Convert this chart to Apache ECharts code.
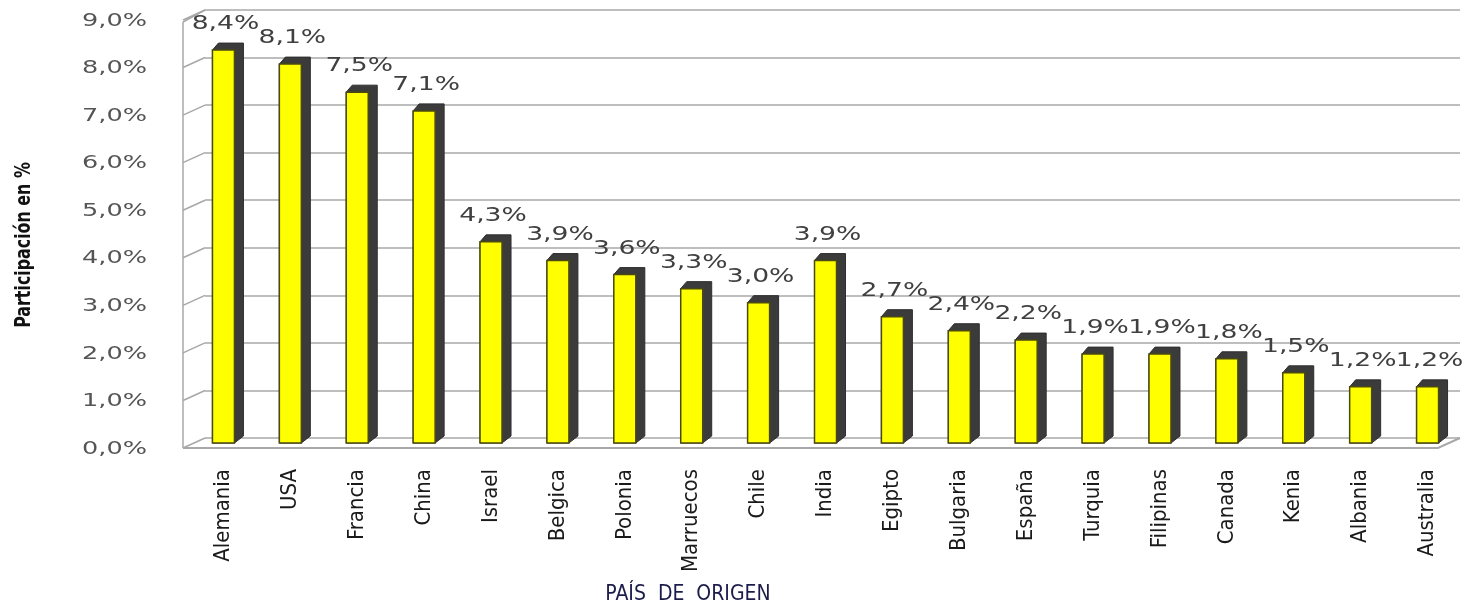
<!DOCTYPE html>
<html>
<head>
<meta charset="utf-8">
<script src="https://cdn.jsdelivr.net/npm/echarts@6/dist/echarts.min.js"></script>
<style>html,body{margin:0;padding:0;background:#fff}#c{width:1463px;height:607px}</style>
</head>
<body>
<div id="c"></div>
<script>
const categories = ['Alemania','USA','Francia','China','Israel','Belgica','Polonia','Marruecos','Chile','India','Egipto','Bulgaria','España','Turquia','Filipinas','Canada','Kenia','Albania','Australia'];
const values = [8.4, 8.1, 7.5, 7.1, 4.3, 3.9, 3.6, 3.3, 3.0, 3.9, 2.7, 2.4, 2.2, 1.9, 1.9, 1.8, 1.5, 1.2, 1.2];
const tickValues = [0, 1, 2, 3, 4, 5, 6, 7, 8, 9];
const tickLabels = ['0,0%','1,0%','2,0%','3,0%','4,0%','5,0%','6,0%','7,0%','8,0%','9,0%'];
const yTitle = 'Participación en %';
const xTitle = 'PAÍS  DE  ORIGEN';

const fmt = v => v.toFixed(1).replace('.', ',') + '%';
const DX = -22, DY = 10; // depth vector (back wall -> front edge)
const GRID_COLOR = '#a8a8a8';
const NARROW = '"Liberation Sans Narrow","DejaVu Sans Condensed",sans-serif';

const chart = echarts.init(document.getElementById('c'), null, {renderer: 'canvas'});
chart.setOption({
  animation: false,
  backgroundColor: '#ffffff',
  grid: [
    {left: 205, right: 3, top: 10, bottom: 169},
    {left: 190, right: 2, top: 22, bottom: 164}
  ],
  xAxis: [
    {gridIndex: 0, type: 'category', data: categories, show: false},
    {gridIndex: 1, type: 'category', data: categories,
     axisLine: {show: false}, axisTick: {show: false},
     axisLabel: {rotate: 90, margin: 26, interval: 0, fontFamily: NARROW, fontSize: 22, color: '#1a1a1a'}}
  ],
  yAxis: [
    {gridIndex: 0, type: 'value', min: 0, max: 9, interval: 1,
     axisLine: {show: false}, axisTick: {show: false}, axisLabel: {show: false},
     splitLine: {show: true, lineStyle: {color: GRID_COLOR, width: 1.5}}},
    {gridIndex: 1, type: 'value', min: 0, max: 9, interval: 1, show: false, splitLine: {show: false}}
  ],
  series: [
    {
      type: 'custom', xAxisIndex: 0, yAxisIndex: 0, silent: true,
      data: tickValues.map((v, i) => [0, v, i]),
      renderItem: function (params, api) {
        const cs = params.coordSys;
        const v = api.value(1);
        const idx = api.value(2);
        const y = api.coord([0, v])[1];
        const gx = cs.x;
        const children = [
          {type: 'line', shape: {x1: gx, y1: y, x2: gx + DX, y2: y + DY}, style: {stroke: GRID_COLOR, lineWidth: 1.5}},
          {type: 'text', x: 147, y: y + 11, scaleX: 1.42, scaleY: 1,
           style: {text: tickLabels[idx], align: 'right', verticalAlign: 'middle', fontFamily: '"DejaVu Sans",sans-serif', fontSize: 18, fill: '#555'}}
        ];
        if (v === 0) {
          const yTop = api.coord([0, 9])[1];
          const right = cs.x + cs.width;
          children.push({type: 'line', shape: {x1: gx + DX, y1: yTop + DY + 2, x2: gx + DX, y2: y + DY}, style: {stroke: GRID_COLOR, lineWidth: 1.5}});
          children.push({type: 'line', shape: {x1: gx, y1: yTop, x2: gx + DX, y2: yTop + DY + 2}, style: {stroke: GRID_COLOR, lineWidth: 1.5}});
          children.push({type: 'polyline', shape: {points: [[gx + DX, y + DY], [right + DX, y + DY], [right, y]]}, style: {stroke: GRID_COLOR, lineWidth: 2, fill: null}});
        }
        return {type: 'group', children: children};
      },
      z: 1
    },
    {
      type: 'custom', xAxisIndex: 1, yAxisIndex: 1, silent: true,
      data: values.map((v, i) => [i, v]),
      renderItem: function (params, api) {
        const i = api.value(0);
        const v = api.value(1);
        const top = api.coord([i, v]);
        const base = api.coord([i, 0])[1];
        const w = 22, sx = 9, sy = 7;
        const x0 = top[0] - w / 2;
        const yt = top[1];
        return {
          type: 'group',
          children: [
            {type: 'polygon', shape: {points: [[x0, yt], [x0 + 6, yt - sy], [x0 + w + sx, yt - sy], [x0 + w + sx, base - sy], [x0 + w, base], [x0, base]]},
             style: {fill: '#3b3b3b', stroke: '#2e2e2e', lineWidth: 1}},
            {type: 'rect', shape: {x: x0, y: yt, width: w, height: base - yt},
             style: {fill: '#ffff00', stroke: '#4a4a10', lineWidth: 1.5}},
            {type: 'text', x: top[0] + 2, y: yt - 26, scaleX: 1.4, scaleY: 1,
             style: {text: fmt(v), align: 'center', verticalAlign: 'middle', fontFamily: '"DejaVu Sans",sans-serif', fontSize: 19, fill: '#404040'}}
          ]
        };
      },
      z: 3
    }
  ],
  graphic: [
    {type: 'text', x: 25, y: 245, rotation: Math.PI / 2, scaleX: 0.84, scaleY: 1,
     style: {text: yTitle, align: 'center', verticalAlign: 'middle', fontFamily: NARROW, fontWeight: 'bold', fontSize: 21, fill: '#111'}},
    {type: 'text', x: 688, y: 595,
     style: {text: xTitle, align: 'center', verticalAlign: 'middle', fontFamily: NARROW, fontSize: 21, fill: '#1c1c4a'}}
  ]
});
</script>
</body>
</html>
